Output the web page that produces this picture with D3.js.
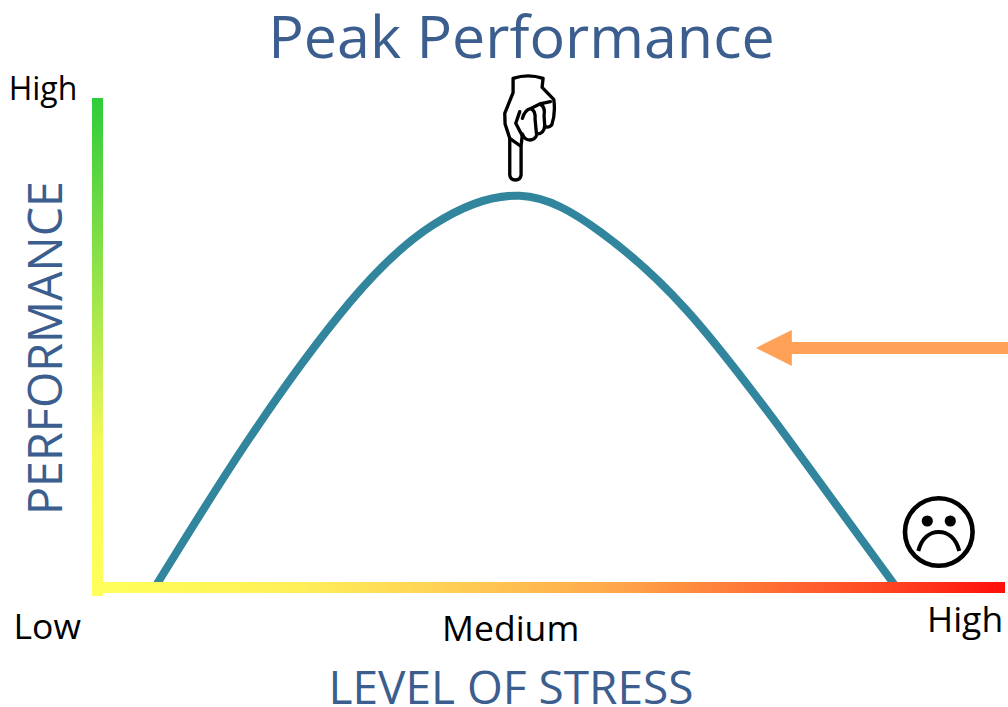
<!DOCTYPE html>
<html>
<head>
<meta charset="utf-8">
<script src="https://cdn.jsdelivr.net/npm/d3@7"></script>
<style>
  html, body { margin: 0; padding: 0; background: #fff; }
  svg { display: block; }
  text { font-family: "Open Sans", sans-serif; }
</style>
</head>
<body>
<div id="chart"></div>
<script>
// curve, both axes in percent of the arrow length
const stress = [6.3, 16.8, 27.8, 36.9, 46.5, 55.4, 64.9, 76, 88];
const performance_ = [0, 30.7, 58.3, 74, 80, 72.6, 56.6, 30.5, 0];

const stressTicks = ["Low", "Medium", "High"];
const stressTickPos = [-5.6, 45.5, 95.6];
const stressTickY = [639, 641, 632];
const perfTick = "High";
const peakStress = 46.5;
const arrowStress = [100.4, 76.5];
const arrowPerf = 48.9;

const width = 1008, height = 707;
const blue = "#3b5e8f";

const x = d3.scaleLinear().domain([0, 100]).range([98, 1005]);
const y = d3.scaleLinear().domain([0, 100]).range([587, 98]);

const svg = d3.select("#chart").append("svg")
  .attr("width", width)
  .attr("height", height);

const defs = svg.append("defs");

const gradY = defs.append("linearGradient").attr("id", "grad-y")
  .attr("x1", 0).attr("y1", 1).attr("x2", 0).attr("y2", 0);
gradY.append("stop").attr("offset", "0%").attr("stop-color", "#ffff59");
gradY.append("stop").attr("offset", "30%").attr("stop-color", "#f4f958");
gradY.append("stop").attr("offset", "100%").attr("stop-color", "#2ecc3a");

const gradX = defs.append("linearGradient").attr("id", "grad-x");
gradX.append("stop").attr("offset", "0%").attr("stop-color", "#ffff59");
gradX.append("stop").attr("offset", "22%").attr("stop-color", "#ffef58");
gradX.append("stop").attr("offset", "38%").attr("stop-color", "#ffd054");
gradX.append("stop").attr("offset", "57%").attr("stop-color", "#ffa64a");
gradX.append("stop").attr("offset", "88%").attr("stop-color", "#ff4020");
gradX.append("stop").attr("offset", "100%").attr("stop-color", "#ff0f0a");

// curve first, the axis bar sits on top of its ends
const line = d3.line()
  .x((d, i) => x(stress[i]))
  .y(d => y(d))
  .curve(d3.curveNatural);

svg.append("path")
  .datum(performance_)
  .attr("d", line)
  .attr("fill", "none")
  .attr("stroke", "#31859c")
  .attr("stroke-width", 8);

// axis bars
svg.append("rect")
  .attr("x", x(0) - 6).attr("y", y(100))
  .attr("width", 11).attr("height", y(0) - y(100) + 9)
  .attr("fill", "url(#grad-y)");
svg.append("rect")
  .attr("x", x(0) + 5).attr("y", y(0) - 5)
  .attr("width", x(100) - x(0) - 5).attr("height", 11)
  .attr("fill", "url(#grad-x)");

// orange arrow
const ay = y(arrowPerf);
const headX = x(arrowStress[1]);
svg.append("path")
  .attr("d", `M${x(arrowStress[0])},${ay - 6}H${headX}V${ay - 18}L${headX - 36},${ay}L${headX},${ay + 18}V${ay + 6}H${x(arrowStress[0])}Z`)
  .attr("fill", "#ffa257");

// pointing hand, drawn at 3x in its own little box
const hand = svg.append("g")
  .attr("transform", `translate(${x(peakStress) - 40},60) scale(0.3333)`)
  .attr("fill", "none")
  .attr("stroke", "#000")
  .attr("stroke-width", 10)
  .attr("stroke-linejoin", "round")
  .attr("stroke-linecap", "round");
hand.append("path")
  .attr("fill", "#fff")
  .attr("d", "M100,55 Q145,40 190,55 L187,82 L222,118 Q228,160 216,195 Q206,206 195,198 Q192,222 172,222 Q166,240 150,240 Q135,240 128,222 L124,258 L124,345 Q122,360 107,360 Q92,360 90,345 L90,235 L76,192 L75,160 L100,98 Z");
hand.append("path").attr("d", "M90,235 L122,258");
hand.append("path").attr("d", "M120,155 L108,190 L128,228 M128,175 Q135,150 152,146 Q168,150 166,178 L170,220 M152,146 L180,132 Q198,140 193,168 L195,198 M180,132 L212,125");

// sad face
const face = svg.append("g")
  .attr("transform", `translate(${x(92.7)},532)`);
face.append("circle").attr("r", 33.8)
  .attr("fill", "none").attr("stroke", "#000").attr("stroke-width", 4.6);
face.selectAll(".eye").data([-11.5, 11.5]).join("circle")
  .attr("class", "eye")
  .attr("cx", d => d).attr("cy", -11).attr("r", 5.6)
  .attr("fill", "#000");
face.append("path")
  .attr("d", "M-20.5,19 C-17,6 -9,0 0,0 C9,0 17,6 20.5,19")
  .attr("fill", "none").attr("stroke", "#000").attr("stroke-width", 4);

// texts
svg.append("text")
  .attr("x", 521.5).attr("y", 58)
  .attr("text-anchor", "middle")
  .attr("font-size", 59.2)
  .attr("fill", blue)
  .text("Peak Performance");

svg.append("text")
  .attr("x", 43).attr("y", 100)
  .attr("text-anchor", "middle")
  .attr("font-size", 32)
  .attr("fill", "#000")
  .text(perfTick);

svg.selectAll(".tick-label")
  .data(stressTicks)
  .join("text")
  .attr("class", "tick-label")
  .attr("x", (d, i) => x(stressTickPos[i]))
  .attr("y", (d, i) => stressTickY[i])
  .attr("text-anchor", "middle")
  .attr("font-size", 35.5)
  .attr("fill", "#000")
  .text(d => d);

svg.append("text")
  .attr("x", 511).attr("y", 704)
  .attr("text-anchor", "middle")
  .attr("font-size", 46)
  .attr("fill", blue)
  .text("LEVEL OF STRESS");

svg.append("text")
  .attr("transform", "translate(62,348) rotate(-90)")
  .attr("text-anchor", "middle")
  .attr("font-size", 46.7)
  .attr("fill", blue)
  .text("PERFORMANCE");
</script>
</body>
</html>
